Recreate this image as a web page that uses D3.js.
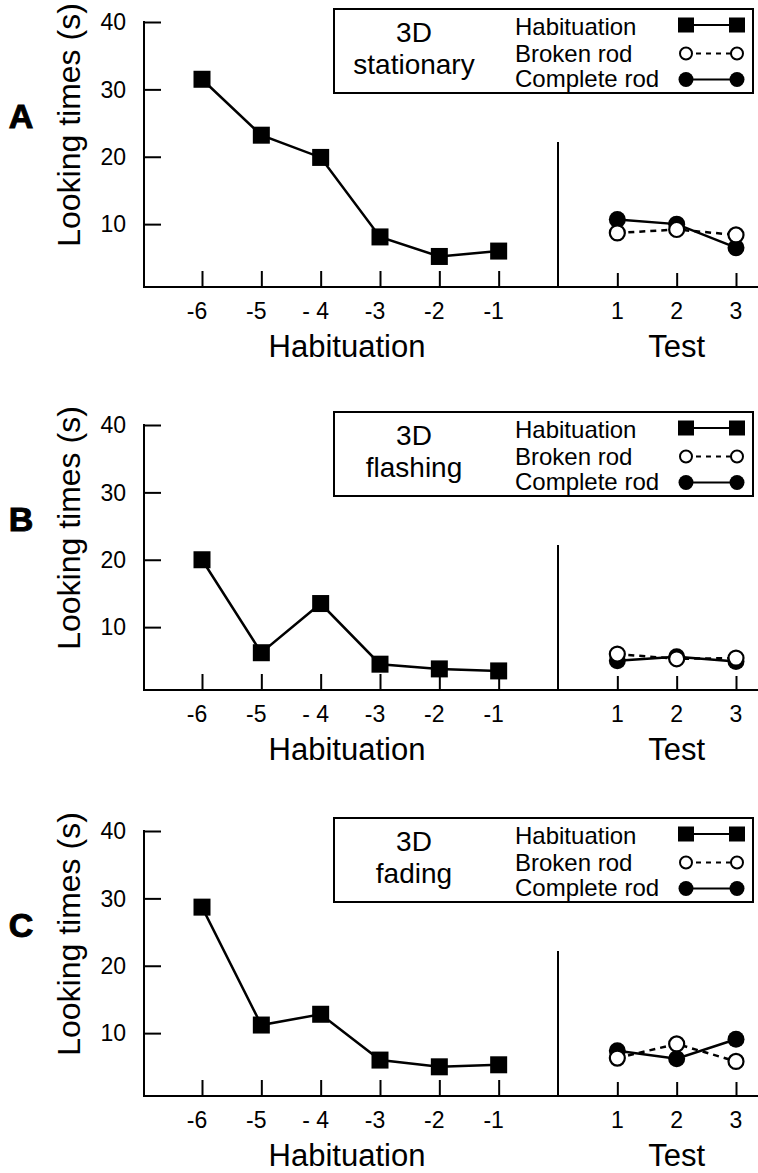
<!DOCTYPE html>
<html>
<head>
<meta charset="utf-8">
<script src="https://cdn.jsdelivr.net/npm/d3@7"></script>
<style>
   body { margin: 0; background: #fff; }
   text { font-family: "Liberation Sans", Arial, Helvetica, sans-serif; fill: #000; }
</style>
</head>
<body>
<div id="chart"></div>
<script>
// Trials and labels
const habTrials = [-6, -5, -4, -3, -2, -1];
const habLabels = ["-6", "-5", "- 4", "-3", "-2", "-1"];
const testTrials = [1, 2, 3];
const testLabels = ["1", "2", "3"];
const yTicks = [10, 20, 30, 40];

const panelLetters = ["A", "B", "C"];
const conditionTitles = [["3D", "stationary"], ["3D", "flashing"], ["3D", "fading"]];
const legendLabels = ["Habituation", "Broken rod", "Complete rod"];

// Looking times (s)
const habA = [31.5, 23.2, 19.9, 8.1, 5.2, 6.0];
const brokenA = [8.7, 9.2, 8.4];
const completeA = [10.7, 10.0, 6.5];

const habB = [20.0, 6.2, 13.5, 4.5, 3.8, 3.5];
const brokenB = [6.0, 5.3, 5.4];
const completeB = [5.0, 5.6, 4.9];

const habC = [28.7, 11.2, 12.8, 6.0, 5.0, 5.3];
const brokenC = [6.3, 8.4, 5.8];
const completeC = [7.4, 6.2, 9.1];

let panels = [
   { hab: habA, broken: brokenA, complete: completeA },
   { hab: habB, broken: brokenB, complete: completeB },
   { hab: habC, broken: brokenC, complete: completeC }
];

let width = 758, height = 1173;
let panelTops = [22, 425, 831];
let plotH = 265;

let svg = d3.select("#chart")
            .append("svg")
            .attr("width", width)
            .attr("height", height);

svg.append("rect")
   .attr("width", width)
   .attr("height", height)
   .attr("fill", "#fff");

// x scale shared by all panels: trial number, 0 is the divider
let x = d3.scaleLinear()
          .domain([-6, 3])
          .range([202, 736]);

let axisX0 = 144;

panels.forEach((p, i) => {
   let top = panelTops[i];
   let g = svg.append("g")
              .attr("transform", `translate(0, ${top})`);

   let y = d3.scaleLinear()
             .domain([0, 40])
             .range([269.5, 0]);

   // Y axis (ticks point inward)
   let yAxis = g.append("g")
                .attr("transform", `translate(${axisX0}, 0)`)
                .call(d3.axisRight(y).tickValues(yTicks).tickSize(17).tickFormat(""));
   yAxis.select(".domain").remove();
   yAxis.selectAll("line").attr("stroke", "#000").attr("stroke-width", 2);

   g.append("line")
    .attr("x1", axisX0).attr("x2", axisX0)
    .attr("y1", y(40) - 1).attr("y2", plotH)
    .attr("stroke", "#000").attr("stroke-width", 2);

   g.selectAll(".ylab")
    .data(yTicks)
    .enter()
    .append("text")
    .attr("x", 126)
    .attr("y", d => y(d))
    .attr("dy", "0.36em")
    .attr("text-anchor", "end")
    .style("font-size", "23px")
    .text(d => d);

   // X baseline
   g.append("line")
    .attr("x1", axisX0 - 1).attr("x2", width)
    .attr("y1", plotH).attr("y2", plotH)
    .attr("stroke", "#000").attr("stroke-width", 2);

   // Habituation ticks (point up)
   let habAxis = g.append("g")
                  .attr("transform", `translate(0, ${plotH})`)
                  .call(d3.axisTop(x).tickValues(habTrials).tickSize(16).tickFormat(""));
   habAxis.select(".domain").remove();
   habAxis.selectAll("line").attr("stroke", "#000").attr("stroke-width", 2);

   let testAxis = g.append("g")
                   .attr("transform", `translate(0, ${plotH})`)
                   .call(d3.axisTop(x).tickValues(testTrials).tickSize(14).tickFormat(""));
   testAxis.select(".domain").remove();
   testAxis.selectAll("line").attr("stroke", "#000").attr("stroke-width", 2);

   g.selectAll(".hlab")
    .data(habTrials)
    .enter()
    .append("text")
    .attr("x", (d, j) => x(d) - 5)
    .attr("y", plotH + 32)
    .attr("text-anchor", "middle")
    .style("font-size", "23px")
    .text((d, j) => habLabels[j]);

   g.selectAll(".tlab")
    .data(testTrials)
    .enter()
    .append("text")
    .attr("x", d => x(d))
    .attr("y", plotH + 32)
    .attr("text-anchor", "middle")
    .style("font-size", "23px")
    .text((d, j) => testLabels[j]);

   // Divider between habituation and test
   g.append("line")
    .attr("x1", x(0)).attr("x2", x(0))
    .attr("y1", 120).attr("y2", plotH)
    .attr("stroke", "#000").attr("stroke-width", 2);

   // Axis titles
   g.append("text")
    .attr("x", 347)
    .attr("y", plotH + 70)
    .attr("text-anchor", "middle")
    .style("font-size", "31px")
    .text("Habituation");

   g.append("text")
    .attr("x", x(2))
    .attr("y", plotH + 70)
    .attr("text-anchor", "middle")
    .style("font-size", "31px")
    .text("Test");

   g.append("text")
    .attr("transform", `translate(80, 103) rotate(-90)`)
    .attr("text-anchor", "middle")
    .style("font-size", "32px")
    .text("Looking times (s)");

   // Panel letter
   g.append("text")
    .attr("x", 21)
    .attr("y", 94)
    .attr("dy", "0.36em")
    .attr("text-anchor", "middle")
    .style("font-size", "34px")
    .style("font-weight", "bold")
    .style("stroke", "#000")
    .style("stroke-width", "1px")
    .text(panelLetters[i]);

   // Lines
   let line = d3.line()
                .x(d => x(d.t))
                .y(d => y(d.v));

   let habPts = habTrials.map((t, j) => ({ t: t, v: p.hab[j] }));
   let brokenPts = testTrials.map((t, j) => ({ t: t, v: p.broken[j] }));
   let completePts = testTrials.map((t, j) => ({ t: t, v: p.complete[j] }));

   g.append("path")
    .datum(habPts)
    .attr("d", line)
    .attr("fill", "none")
    .attr("stroke", "#000")
    .attr("stroke-width", 2.5);

   g.append("path")
    .datum(completePts)
    .attr("d", line)
    .attr("fill", "none")
    .attr("stroke", "#000")
    .attr("stroke-width", 2.5);

   g.append("path")
    .datum(brokenPts)
    .attr("d", line)
    .attr("fill", "none")
    .attr("stroke", "#000")
    .attr("stroke-width", 2.5)
    .attr("stroke-dasharray", "6,5");

   // Markers
   let sq = 17;
   g.selectAll(".sq")
    .data(habPts)
    .enter()
    .append("rect")
    .attr("x", d => x(d.t) - sq / 2)
    .attr("y", d => y(d.v) - sq / 2)
    .attr("width", sq)
    .attr("height", sq)
    .attr("fill", "#000");

   g.selectAll(".filled")
    .data(completePts)
    .enter()
    .append("circle")
    .attr("cx", d => x(d.t))
    .attr("cy", d => y(d.v))
    .attr("r", 8.5)
    .attr("fill", "#000");

   g.selectAll(".open")
    .data(brokenPts)
    .enter()
    .append("circle")
    .attr("cx", d => x(d.t))
    .attr("cy", d => y(d.v))
    .attr("r", 7.5)
    .attr("fill", "#fff")
    .attr("stroke", "#000")
    .attr("stroke-width", 2.2);

   // Legend box
   let leg = g.append("g");
   leg.append("rect")
      .attr("x", 334)
      .attr("y", -13)
      .attr("width", 419)
      .attr("height", 84)
      .attr("fill", "#fff")
      .attr("stroke", "#000")
      .attr("stroke-width", 2);

   leg.selectAll(".ctitle")
      .data(conditionTitles[i])
      .enter()
      .append("text")
      .attr("x", 414)
      .attr("y", (d, j) => 20 + j * 32)
      .attr("text-anchor", "middle")
      .style("font-size", "28px")
      .text(d => d);

   leg.selectAll(".ltext")
      .data(legendLabels)
      .enter()
      .append("text")
      .attr("x", 515)
      .attr("y", (d, j) => [13, 40, 65][j])
      .style("font-size", "24px")
      .text(d => d);

   let lx1 = 686, lx2 = 737;
   let rowY = [3, 31.5, 57.5];

   // Habituation key
   leg.append("line")
      .attr("x1", lx1).attr("x2", lx2)
      .attr("y1", rowY[0]).attr("y2", rowY[0])
      .attr("stroke", "#000").attr("stroke-width", 2);
   leg.selectAll(".lsq")
      .data([lx1, lx2])
      .enter()
      .append("rect")
      .attr("x", d => d - 8)
      .attr("y", rowY[0] - 7.5)
      .attr("width", 16)
      .attr("height", 15)
      .attr("fill", "#000");

   // Broken rod key
   leg.append("line")
      .attr("x1", lx1 + 6).attr("x2", lx2 - 6)
      .attr("y1", rowY[1]).attr("y2", rowY[1])
      .attr("stroke", "#000").attr("stroke-width", 2)
      .attr("stroke-dasharray", "5,5")
      .attr("stroke-dashoffset", -4);
   leg.selectAll(".lopen")
      .data([lx1, lx2])
      .enter()
      .append("circle")
      .attr("cx", d => d)
      .attr("cy", rowY[1])
      .attr("r", 6)
      .attr("fill", "#fff")
      .attr("stroke", "#000")
      .attr("stroke-width", 2);

   // Complete rod key
   leg.append("line")
      .attr("x1", lx1).attr("x2", lx2)
      .attr("y1", rowY[2]).attr("y2", rowY[2])
      .attr("stroke", "#000").attr("stroke-width", 2);
   leg.selectAll(".lfill")
      .data([lx1, lx2])
      .enter()
      .append("circle")
      .attr("cx", d => d)
      .attr("cy", rowY[2])
      .attr("r", 7.5)
      .attr("fill", "#000");
});
</script>
</body>
</html>
